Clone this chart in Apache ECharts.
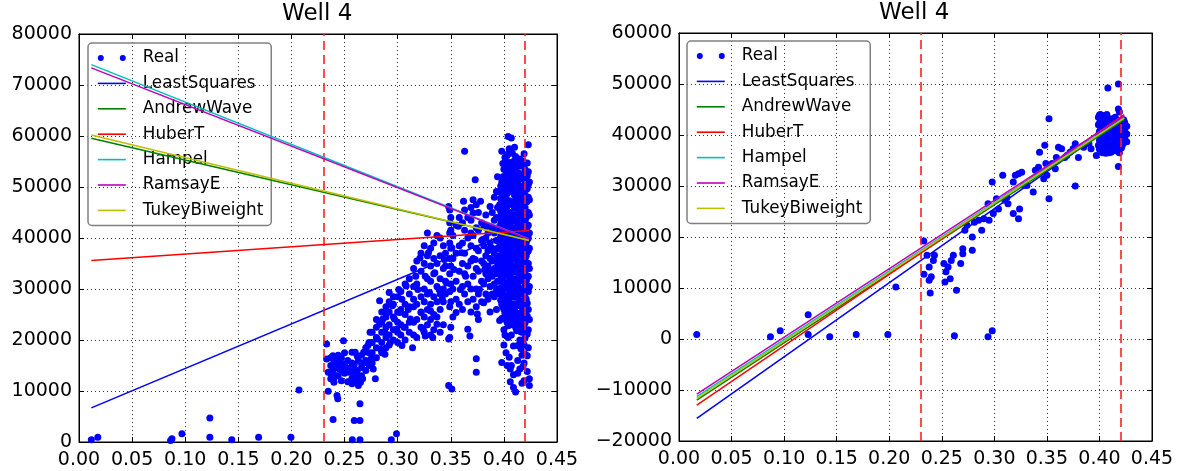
<!DOCTYPE html>
<html><head><meta charset="utf-8">
<script src="https://cdn.jsdelivr.net/npm/echarts@6/dist/echarts.min.js"></script>
<style>html,body{margin:0;padding:0;background:#fff}#c{width:1186px;height:471px}</style>
</head><body><div id="c"></div>
<script>
// ---------- data ----------
const seriesNames = ['LeastSquares','AndrewWave','HuberT','Hampel','RamsayE','TukeyBiweight'];
const seriesColors = ['#0000ff','#008000','#ff0000','#00bfbf','#bf00bf','#bfbf00'];

const xRange = [0, 0.45, 0.05];
const leftYRange = [0, 80000, 10000];
const rightYRange = [-20000, 60000, 10000];

const leftBounds = [0.2331, 0.4236];
const rightBounds = [0.2329, 0.4236];

// fitted lines (x ends, y ends)
const leftLineX = [0.0116, 0.4236];
const leftLeastSquares = [6700, 42700];
const leftAndrewWave = [59560, 39600];
const leftHuberT = [35600, 41460];
const leftHampel = [74000, 39800];
const leftRamsayE = [73360, 39800];
const leftTukeyBiweight = [60200, 39500];

const rightLineX = [0.0169, 0.4236];
const rightLeastSquares = [-15560, 43500];
const rightAndrewWave = [-11970, 43000];
const rightHuberT = [-12950, 44000];
const rightHampel = [-11320, 43400];
const rightRamsayE = [-10800, 43800];
const rightTukeyBiweight = [-11640, 43300];

// Real points, left panel (individual readings)
const leftRealPoints = [
[0.0116,456],[0.0177,911],[0.0862,300],[0.0875,651],[0.0969,1627],[0.1232,4687],[0.1232,911],[0.1438,456],[0.1691,911],[0.1995,911],[0.2071,10219],
[0.2331,19200],[0.2331,16270],[0.2346,13670],[0.2346,9960],[0.2392,4430],[0.2429,9110],[0.2436,8460],[0.2573,456],[0.2591,4230],[0.2645,4230],[0.2645,7490],[0.2645,456],[0.2940,456],[0.2989,1627],
[0.239,16900],[0.241,15900],[0.243,15000],[0.245,14300],[0.239,14000],[0.246,16300],[0.249,15300],[0.242,13000],[0.237,12400],[0.240,11700],[0.249,19850],
[0.254,13700],[0.256,12000],[0.257,11400],[0.259,15000],[0.261,13000],[0.263,15900],[0.265,11700],[0.266,14600],[0.268,17600],[0.270,15600],[0.267,12400],[0.263,11100],[0.260,17600],[0.257,17600],
[0.272,18900],[0.274,21500],[0.275,16300],[0.277,14300],[0.279,12400],[0.281,20200],[0.283,23100],[0.284,18200],[0.286,24100],[0.288,21500],[0.290,25400],[0.288,17200],[0.283,27700],[0.292,29300],[0.293,19500],[0.295,26700],[0.297,24100],[0.299,22100],[0.301,29900],[0.302,25400],[0.304,28000],[0.304,18900],[0.306,22500],[0.308,30600],[0.310,26000],[0.312,24100],[0.314,18500],[0.315,28000],[0.317,32500],[0.319,29900],[0.321,36100],[0.322,25400],[0.324,22100],[0.326,32500],[0.326,20800],[0.328,41000],[0.329,37100],[0.330,29300],[0.331,25700],[0.333,20500],[0.335,33200],[0.337,23100],[0.339,29900],[0.340,40000],[0.342,28000],[0.344,35800],[0.346,31200],[0.348,46200],[0.348,20200],[0.348,11100],[0.351,10400],[0.349,41000],[0.351,38100],[0.353,33800],[0.355,25400],[0.357,42300],[0.359,29900],[0.360,37100],[0.362,47200],[0.363,57000],[0.364,32500],[0.366,22100],[0.368,20800],[0.369,41000],[0.371,44900],[0.373,51400],[0.373,35800],[0.374,16300],[0.374,13700],[0.375,25100],[0.377,29900],[0.378,47200],[0.380,39700],[0.381,27300],[0.382,33800],[0.384,42300],[0.386,37800],[0.387,46200],[0.389,32500],[0.391,41000],[0.393,49100],[0.395,35800],[0.395,29300],
[0.398,15600],[0.404,59900],[0.407,59600],[0.398,57000],[0.411,9800],[0.409,10700],[0.407,15000],[0.413,18900],[0.415,14300],[0.419,12000],[0.420,20500],[0.423,58300],[0.424,12400],[0.424,11100],[0.405,16600],[0.403,15000]
];
// Real points, left panel (columns: x, list of y)
const leftRealColumns = [
[0.237,[13500,15000,16500]],[0.240,[12500,14500,16000]],[0.244,[13000,15500,17000]],[0.247,[12000,14000,16500]],
[0.250,[13500,15000,17500]],[0.253,[11800,14500,16000]],[0.257,[12500,13800,15500]],[0.262,[12000,14000,16800]],
[0.266,[13000,15500,17000]],[0.270,[14000,16000,18500]],[0.273,[15000,17500,19500]],
[0.276,[15500,17500,19500,21500]],[0.280,[16500,18500,20500,22500,24000]],[0.285,[17500,19500,21500,23500,25500]],
[0.289,[18500,20500,22500,24500,26500]],[0.292,[19000,21000,23000,25500,27500]],[0.296,[20000,22000,24500,27000,28500]],
[0.300,[19500,21500,23500,25500,28500]],[0.303,[21000,23000,26000,29500]],[0.307,[20000,22500,25000,27000,31000]],
[0.311,[21500,23500,26500,29000,32000]],
[0.315,[21000,23500,26500,30500,34000]],[0.318,[20500,24000,27000,31000,35500]],[0.322,[22500,25500,28500,33500,37000]],
[0.325,[21500,24500,27500,30000,35000,38500]],[0.328,[23000,26000,29000,32000,36500]],[0.331,[21000,24000,27000,31500,34500,38000]],
[0.334,[22000,25000,28500,33000,36000,39000]],[0.337,[24500,27500,30500,35000,40500]],[0.340,[21500,26000,29000,32000,36500]],
[0.343,[23000,27500,30000,34000,38500]],
[0.345,[29000,31500,34500,37000]],[0.349,[26500,29500,33000,36000,39000,43000,45500,20500]],[0.350,[22500,27500,31000,34500,38000,41500,44000]],
[0.352,[24500,30000,36000,40500]],[0.355,[28000,31500,37000,42500]],[0.358,[27000,33500,38500,44000]],[0.361,[26000,30500,35000,39000,43000]],
[0.363,[29000,33000,37000,41500,45500]],[0.366,[27500,31000,34500,40000,44000]],[0.369,[25500,30000,35500,38500,43500,46000]],
[0.371,[28000,32500,36000,40500,47500]],[0.374,[26500,30000,34000,38000,42000,46500]],[0.376,[24000,29000,33500,37500,41500,45000]],
[0.379,[27500,31500,35500,39500,43000]],
[0.381,[31000,35000,38500,42500]],[0.383,[29000,33000,36500,40000,44500]],[0.385,[28000,32000,34500,37500,41000]],
[0.387,[30500,33500,36000,39000,25500]],[0.389,[29000,35500,38000,42000,45000]],[0.391,[28500,31000,34000,37000,43500,48000]],
[0.393,[30000,33000,36000,39500,44000,26000]],[0.394,[29500,31500,35000,38000,42000,46000,52000]],
[0.396,[29000,31500,34000,36500,39000,41500,44000,46500,49000,23800]],
[0.397,[27800,30200,32700,35300,37800,40300,42800,45200,47700,50200]],
[0.398,[27000,30000,33000,35500,38000,40500,43000,45500,48000,51000,24200]],
[0.399,[26500,29100,31600,34200,36700,39300,41800,44300,46900,49400,52000,54600]],
[0.400,[26000,28500,31000,33500,36000,38500,41000,43500,46000,48500,50500,53500,22000,19000]],
[0.401,[25200,27700,30300,32800,35300,37900,40400,42900,45400,48000,51500,55800,21000]],
[0.402,[24000,27500,30500,33000,35000,37500,40000,42500,45000,47500,50000,52500,55000,17500]],
[0.403,[26200,28700,31200,33700,36200,38700,41200,43700,46200,48700,51200,53700,56200,23500]],
[0.404,[25500,28000,30000,32500,34500,36500,39000,41500,44000,46500,49000,51500,54000,56500,20500,22800]],
[0.405,[24800,27300,29800,32300,34800,37300,39800,42300,44800,47300,49800,52300,54800,57500]],
[0.406,[23000,26000,29000,31500,34000,36000,38000,40500,43000,45000,47000,49500,52000,54500,11800,14300]],
[0.407,[21000,25200,28400,30700,33200,35700,38200,41700,44200,46700,50700,53200]],
[0.408,[24100,26600,29100,31600,34100,36600,39100,41600,44100,46600,49100,51600,54100,56600]],
[0.409,[24500,27000,29500,32000,34500,37000,39500,42000,44500,47000,49500,52000,55000,13200,18800]],
[0.410,[23400,25900,28400,30900,33400,35900,38400,40900,43400,45900,48400,50900,53400,57800]],
[0.411,[22500,26500,30500,33500,36500,38500,41000,43500,46000,48000,50500,53000,56000]],
[0.412,[21800,24300,26800,29300,31800,34300,36800,39300,41800,44300,46800,49300,51800,54300]],
[0.413,[25000,28500,31000,35500,37500,40000,42500,45500,48500,51000,54000,13500,16000]],
[0.414,[22700,25200,27700,30200,32700,35200,37700,40200,42700,45200,47700,50200,52700,55200]],
[0.415,[20000,23500,27500,30000,33000,35000,38000,41000,44000,46500,49000,52500,55500]],
[0.416,[18300,21600,24100,26600,29100,31600,34100,36600,39100,41600,44100,46600,49100,51600,54100]],
[0.417,[11500,17000,21500,25500,29000,32000,34500,37000,39500,42000,45000,47500,50000]],
[0.418,[14800,19700,22600,25100,27600,30100,32600,35100,37600,40100,42600,45100,47600,50100,52600,55100]],
[0.419,[15500,19000,23000,27000,30000,33500,36000,38500,41000,43500,46000,48500,51500,54000,56500]],
[0.420,[17200,23400,25900,28400,30900,33400,35900,38400,40900,43400,45900,48400,50900,53400]],
[0.421,[24500,28000,31500,34000,36500,39000,41500,44000,47000,49500,52500]],
[0.422,[13800,16900,21200,24700,27200,29700,32200,34700,37200,39700,42200,44700,47200,49700,52200,54700]],
[0.423,[18500,22000,26000,29500,32500,35000,37500,40000,42500,45000,48000,50500,53000]],
[0.424,[24000,30500,34000,38000,41000,44500,47500,51000]]
];

// Real points, right panel
const rightRealPoints = [
[0.0169,869],[0.087,427],[0.0963,1600],[0.1229,4733],[0.1229,869],[0.1434,427],[0.1686,869],[0.1987,869],[0.2063,10200],
[0.2329,19220],[0.233,12700],[0.236,16400],[0.238,14100],[0.238,11500],[0.239,9040],[0.240,12200],[0.242,15400],[0.243,16400],
[0.252,14800],[0.253,11200],[0.254,13200],[0.256,14100],[0.258,11800],[0.259,15400],[0.261,16400],[0.262,620],[0.264,9560],
[0.268,14800],[0.270,16700],[0.270,17700],[0.272,21300],[0.274,22300],[0.279,17400],[0.279,20000],[0.281,22900],[0.285,23300],
[0.288,21300],[0.290,23600],[0.294,26500],[0.294,430],[0.295,23300],[0.298,30800],[0.298,1600],[0.299,24600],[0.302,27500],
[0.304,25500],[0.308,32100],[0.310,27200],[0.312,27800],[0.313,26500],[0.318,24600],[0.318,30800],[0.320,32100],[0.323,32400],
[0.324,25500],[0.323,23600],[0.326,32700],[0.328,30100],[0.331,30100],[0.337,28800],[0.339,33100],[0.342,33700],[0.343,36600],
[0.347,31400],[0.348,38000],[0.349,34400],[0.350,32100],[0.352,43200],[0.352,27500],[0.355,34400],[0.358,33400],[0.359,35600],
[0.361,37600],[0.364,37300],[0.367,35600],[0.369,36000],[0.372,36600],[0.375,37300],[0.377,30000],[0.377,38300],[0.380,35600],
[0.385,37600],[0.390,38300],[0.392,37300],[0.397,36000],
[0.408,49200],[0.418,50000],[0.418,45100],[0.418,33800],[0.405,36600],[0.411,36600]
];
const rightRealColumns = [
[0.399,[38000,40000,42000,43500]],[0.400,[37200,38900,40700,42300,43900]],[0.401,[37500,39000,41000,43000,44000]],
[0.402,[36800,38300,39800,41400,42900]],[0.403,[36500,38500,40500,42500,43800]],[0.404,[37700,39200,40800,42200,43600]],
[0.405,[37000,39500,41500,43000]],[0.406,[36400,38100,39600,41200,42700]],[0.407,[38000,40000,42000,44000]],
[0.408,[37300,38800,40300,41900,43300]],[0.409,[36500,39000,41000,42500]],[0.410,[38200,39700,41300,42900]],
[0.411,[37500,40500,43000]],[0.412,[37100,38600,40100,41700,43200]],[0.413,[38500,40000,41500]],
[0.414,[36900,38300,39900,41300,42800]],[0.415,[37000,39500,42000,43500]],[0.416,[37600,39100,40600,42100]],
[0.417,[38000,40500,42500]],[0.418,[36700,38400,39800,41400,42900]],[0.419,[36500,39000,41000,44500]],
[0.420,[37800,39300,40800,42400]],[0.421,[37500,40000,42000]],[0.422,[38100,39600,41100,42600]],
[0.423,[38500,40500,41500,43000]],[0.424,[39500,41000,42500]],[0.426,[38700,40200,41700]]
];

// ---------- build ----------
function expand(points, columns){
  const out = points.slice();
  columns.forEach(c => c[1].forEach(y => out.push([c[0], y])));
  return out;
}
const leftReal = expand(leftRealPoints, leftRealColumns);
const rightReal = expand(rightRealPoints, rightRealColumns);
const leftFits = [leftLeastSquares,leftAndrewWave,leftHuberT,leftHampel,leftRamsayE,leftTukeyBiweight];
const rightFits = [rightLeastSquares,rightAndrewWave,rightHuberT,rightHampel,rightRamsayE,rightTukeyBiweight];

const FONT = 'DejaVu Sans';
const fmtX = v => v.toFixed(2);
const fmtY = v => v < 0 ? '\u2212' + (-v) : String(v);

function xAxes(grid){
  const base = {type:'value', gridIndex:grid, min:xRange[0], max:xRange[1], interval:xRange[2]};
  return [
    Object.assign({}, base, {position:'bottom',
      axisLine:{show:true, onZero:false, lineStyle:{color:'#000', width:1}},
      axisTick:{show:true, inside:true, length:5, lineStyle:{color:'#000'}},
      axisLabel:{show:true, margin:9, color:'#000', fontFamily:FONT, fontSize:19, formatter:fmtX},
      splitLine:{show:true, lineStyle:{color:'#000', type:[1,3], width:0.8}}}),
    Object.assign({}, base, {position:'top',
      axisLine:{show:true, onZero:false, lineStyle:{color:'#000', width:1}},
      axisTick:{show:true, inside:true, length:5, lineStyle:{color:'#000'}},
      axisLabel:{show:false}, splitLine:{show:false}})
  ];
}
function yAxes(grid, r){
  const base = {type:'value', gridIndex:grid, min:r[0], max:r[1], interval:r[2]};
  return [
    Object.assign({}, base, {position:'left',
      axisLine:{show:true, onZero:false, lineStyle:{color:'#000', width:1}},
      axisTick:{show:true, inside:true, length:5, lineStyle:{color:'#000'}},
      axisLabel:{show:true, margin:7, color:'#000', fontFamily:FONT, fontSize:19, formatter:fmtY},
      splitLine:{show:true, lineStyle:{color:'#000', type:[1,3], width:0.8}}}),
    Object.assign({}, base, {position:'right',
      axisLine:{show:true, onZero:false, lineStyle:{color:'#000', width:1}},
      axisTick:{show:true, inside:true, length:5, lineStyle:{color:'#000'}},
      axisLabel:{show:false}, splitLine:{show:false}})
  ];
}

const realIcon = 'path://M0,3a3,3 0 1,0 6,0a3,3 0 1,0 -6,0Z M22,3a3,3 0 1,0 6,0a3,3 0 1,0 -6,0Z';

function panelSeries(xi, yi, real, lineX, fits, bounds){
  const s = [{
    name:'Real', type:'scatter', xAxisIndex:xi, yAxisIndex:yi,
    symbol:'circle', symbolSize:7, itemStyle:{color:'#0000ff', opacity:1},
    data: real, silent:true, z:2
  }];
  seriesNames.forEach((n, i) => {
    s.push({
      name:n, type:'line', xAxisIndex:xi, yAxisIndex:yi, symbol:'none', silent:true,
      lineStyle:{color:seriesColors[i], width:1.5}, itemStyle:{color:seriesColors[i]},
      data:[[lineX[0], fits[i][0]], [lineX[1], fits[i][1]]], z:3+i
    });
  });
  s.push({
    name:'bounds', type:'line', xAxisIndex:xi, yAxisIndex:yi, data:[], silent:true, z:10,
    markLine:{silent:true, symbol:['none','none'], label:{show:false},
      lineStyle:{color:'#ff2020', type:[9,5], width:1.6},
      data: bounds.map(b => ({xAxis:b}))}
  });
  return s;
}

function legend(left, top){
  return {
    left:left, top:top, orient:'vertical',
    data:[{name:'Real', icon:realIcon}].concat(seriesNames.map((n, i) => ({
      name:n, itemStyle:{color:'rgba(0,0,0,0)', opacity:0, borderWidth:0},
      lineStyle:{color:seriesColors[i], width:1.6}
    }))),
    itemWidth:28, itemHeight:6, itemGap:7.4,
    padding:[6,8,6,9],
    borderColor:'#808080', borderWidth:1.5, borderRadius:4,
    backgroundColor:'rgba(255,255,255,0)',
    selectedMode:false,
    textStyle:{fontFamily:FONT, fontSize:16.8, color:'#000', lineHeight:18, padding:[0,0,0,12]}
  };
}

const option = {
  animation:false,
  backgroundColor:'#fff',
  title:[
    {text:'Well 4', left:282, top:3, padding:0, textStyle:{fontFamily:FONT, fontSize:23, fontWeight:'normal', color:'#000'}},
    {text:'Well 4', left:879, top:2, padding:0, textStyle:{fontFamily:FONT, fontSize:23, fontWeight:'normal', color:'#000'}}
  ],
  grid:[
    {left:79, top:34, width:478, height:408, show:true, borderColor:'#000', borderWidth:1, backgroundColor:'#fff'},
    {left:679, top:33, width:473, height:408, show:true, borderColor:'#000', borderWidth:1, backgroundColor:'#fff'}
  ],
  xAxis: xAxes(0).concat(xAxes(1)),
  yAxis: yAxes(0, leftYRange).concat(yAxes(1, rightYRange)),
  legend:[legend(88, 43), legend(687, 41)],
  series: panelSeries(0, 0, leftReal, leftLineX, leftFits, leftBounds)
    .concat(panelSeries(2, 2, rightReal, rightLineX, rightFits, rightBounds))
};

const chart = echarts.init(document.getElementById('c'), null, {renderer:'canvas'});
chart.setOption(option);
</script>
</body></html>
